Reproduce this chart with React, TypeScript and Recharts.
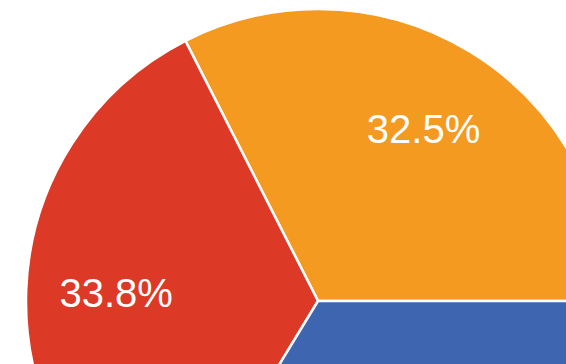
import { PieChart, Pie, Cell } from "recharts";

// slices in drawing order (counterclockwise from 3 o'clock)
const names = ["Orange", "Red", "Blue"];
const shares = [32.5, 33.8, 33.7];
const colors = ["#F59A20", "#DC3A26", "#3E66B0"];

const data = names.map((name, i) => ({ name, value: shares[i] }));

const W = 566;
const H = 364;
const RAD = Math.PI / 180;

function renderLabel(props: any) {
  const { cx, cy, midAngle, index } = props;
  const r = 202;
  const x = cx + r * Math.cos(-midAngle * RAD);
  const y = cy + r * Math.sin(-midAngle * RAD);
  // the blue slice's label falls below the visible area
  if (y - 20 > H || x < 0 || x > W) return null;
  return (
    <text
      x={x}
      y={y}
      fill="#ffffff"
      fontSize={40}
      fontFamily="'Liberation Sans', Arial, sans-serif"
      textAnchor="middle"
      dominantBaseline="central"
    >
      {shares[index].toFixed(1)}%
    </text>
  );
}

export default function App() {
  return (
    <div
      style={{
        position: "fixed",
        left: 0,
        top: 0,
        width: W,
        height: H,
        overflow: "hidden",
        background: "#ffffff",
      }}
    >
      <PieChart width={W} height={H} margin={{ top: 0, right: 0, bottom: 0, left: 0 }}>
        <Pie
          data={data}
          dataKey="value"
          cx={318}
          cy={301}
          outerRadius={292}
          startAngle={0}
          endAngle={360}
          stroke="#ffffff"
          strokeWidth={2.5}
          label={renderLabel}
          labelLine={false}
          isAnimationActive={false}
        >
          {data.map((d, i) => (
            <Cell key={d.name} fill={colors[i]} />
          ))}
        </Pie>
      </PieChart>
    </div>
  );
}
